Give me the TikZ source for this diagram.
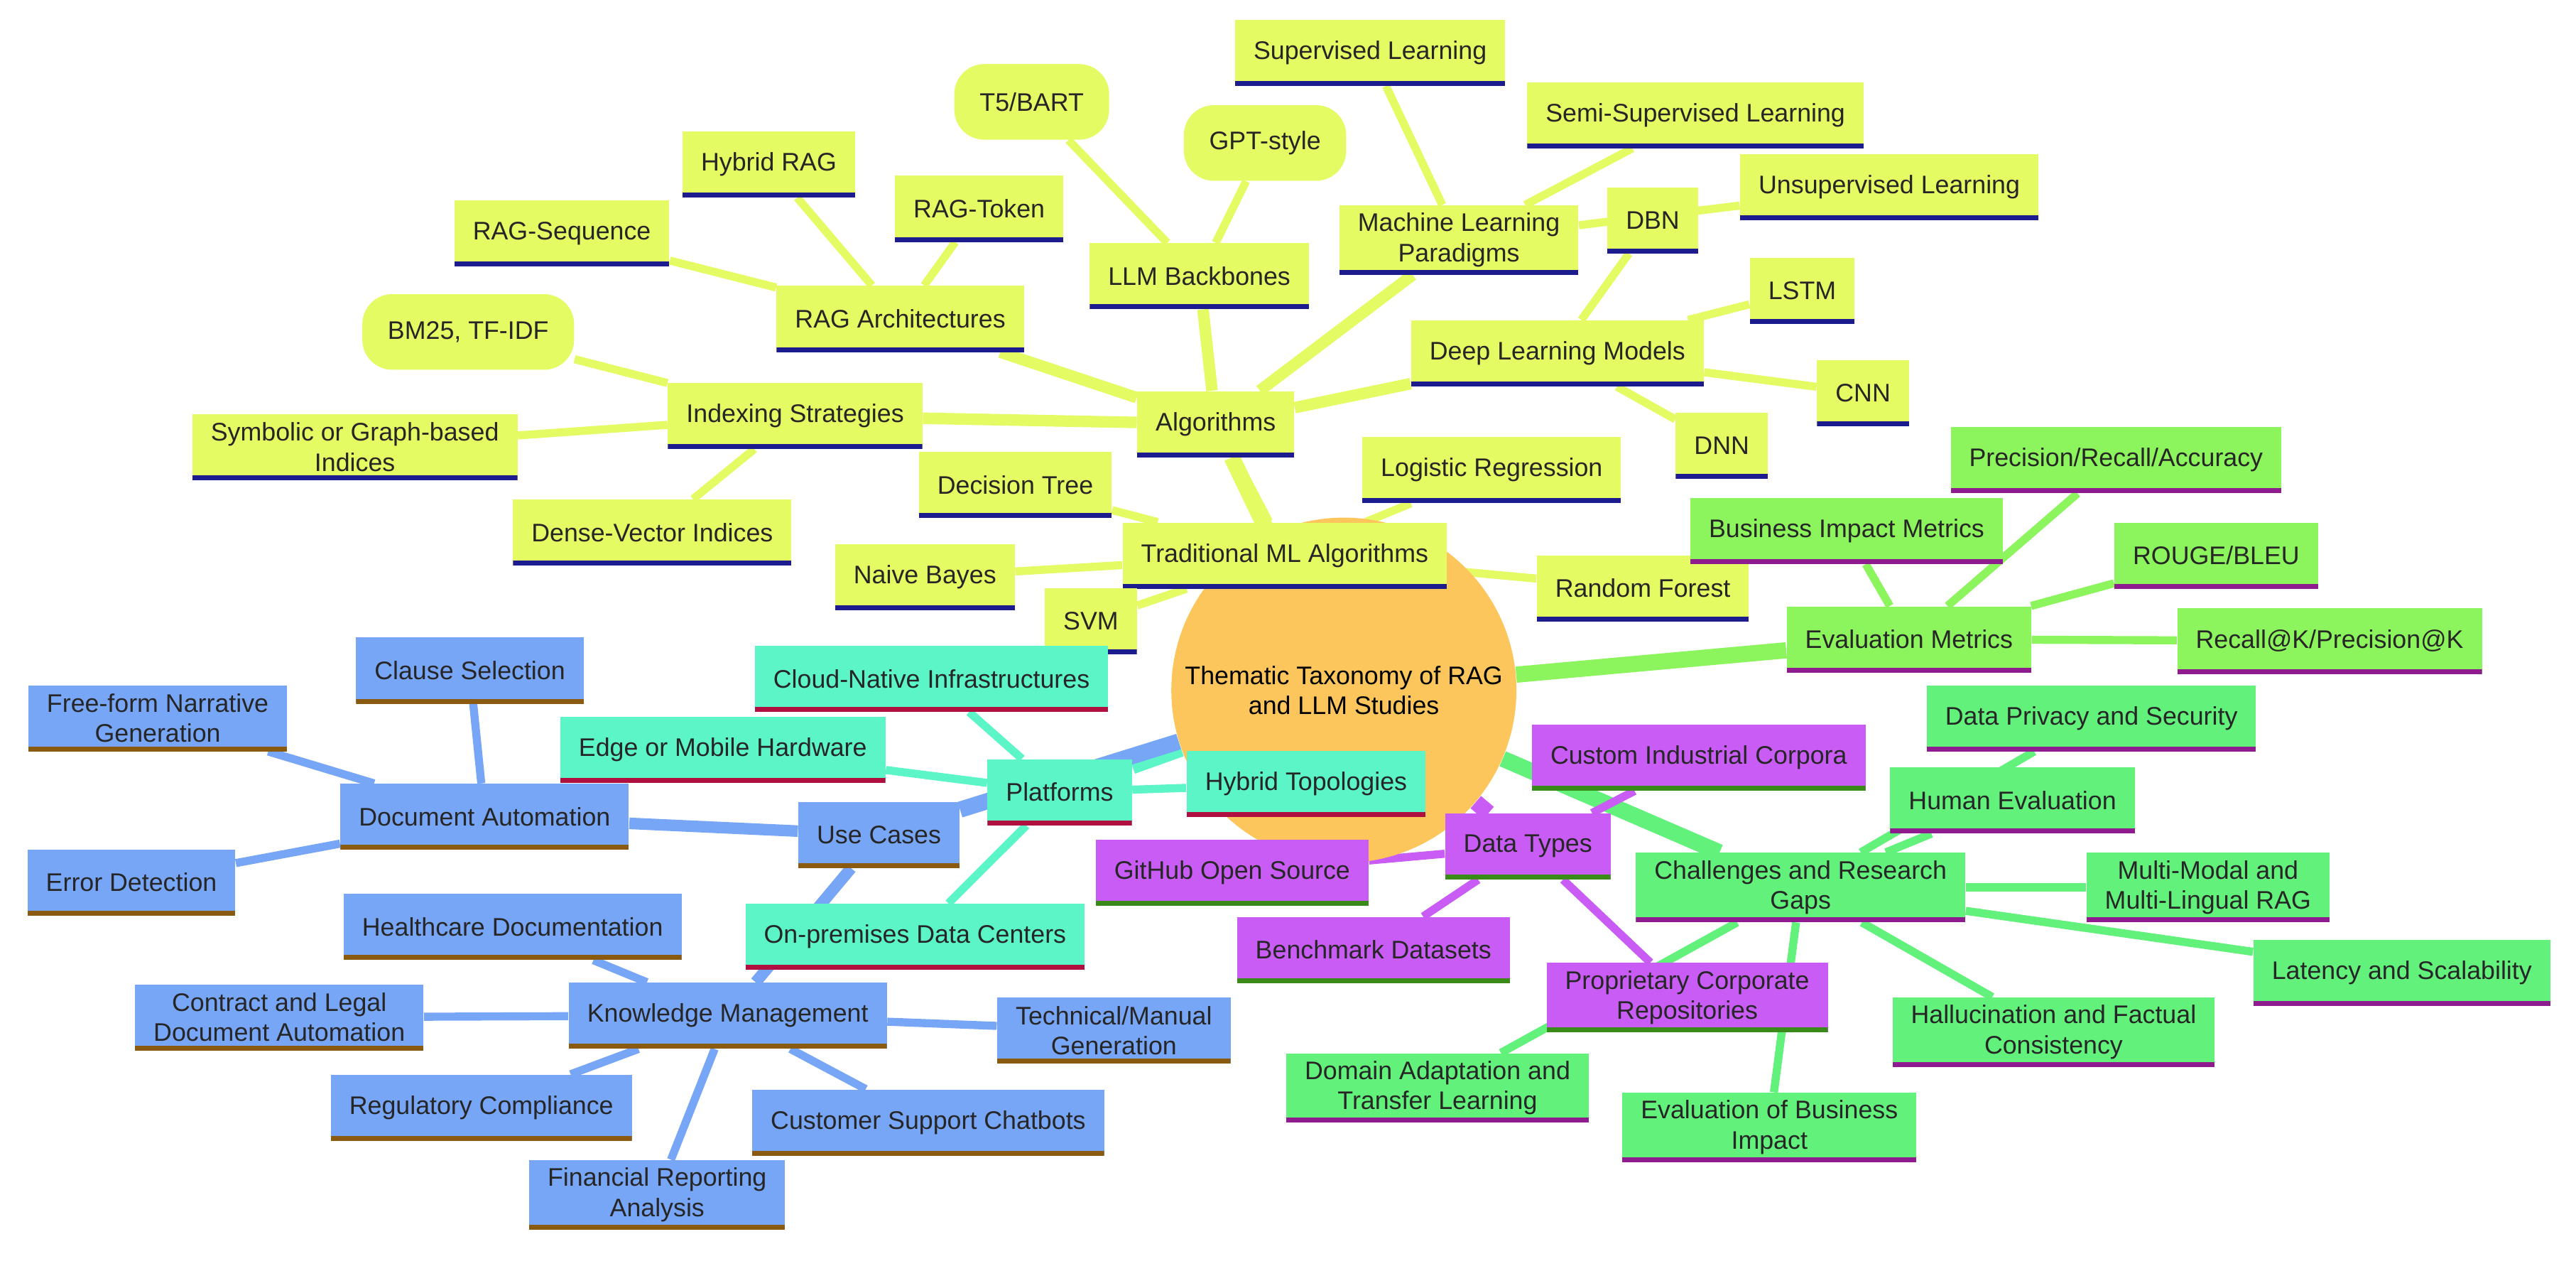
\documentclass[tikz,border=0pt]{standalone}
\usepackage{fontspec}
\setmainfont{Liberation Sans}
\usetikzlibrary{positioning}
\usetikzlibrary{backgrounds}
\definecolor{yel}{HTML}{E4FB63}
\definecolor{navy}{HTML}{1C1C8E}
\definecolor{lime}{HTML}{8CF45C}
\definecolor{grn}{HTML}{62F27C}
\definecolor{plum}{HTML}{8E1C8E}
\definecolor{vio}{HTML}{C95CF5}
\definecolor{moss}{HTML}{3A8A1A}
\definecolor{teal}{HTML}{5CF5C8}
\definecolor{crim}{HTML}{B01040}
\definecolor{blu}{HTML}{78A6F7}
\definecolor{brn}{HTML}{8A5A10}
\definecolor{orng}{HTML}{FDC65C}
\tikzset{
  leaf/.style={draw=none, align=center, inner xsep=8pt, minimum height=1cm,
    font=\fontsize{11}{13}\selectfont, text=black!85},
  ul/.style={path picture={\draw[#1, line width=4pt] (path picture bounding box.south west) -- (path picture bounding box.south east);}},
  Y/.style={leaf, fill=yel, ul=navy},
  YR/.style={leaf, fill=yel, rounded corners=13pt, minimum height=1.15cm, inner xsep=11pt},
  L/.style={leaf, fill=lime, ul=plum},
  G/.style={leaf, fill=grn, ul=plum},
  P/.style={leaf, fill=vio, ul=moss},
  T/.style={leaf, fill=teal, ul=crim},
  B/.style={leaf, fill=blu, ul=brn},
  e0/.style={line width=7pt},
  e1/.style={line width=5pt},
  e2/.style={line width=3.5pt},
}
\begin{document}
\begin{tikzpicture}[x=0.025cm, y=-0.025cm]
\useasboundingbox (0,0) rectangle (1568,770);
% root
\node[circle, fill=orng, minimum size=5.25cm, align=center, font=\fontsize{11}{13}\selectfont] (root) at (818,420) {Thematic Taxonomy of RAG\\and LLM Studies};
% algorithms
\node[Y] (alg) at (740,258) {Algorithms};
\node[Y] (llm) at (730,168) {LLM Backbones};
\node[YR] (t5) at (628,62) {T5/BART};
\node[YR] (gpt) at (770,87) {GPT-style};
\node[Y] (mlp) at (888,146) {Machine Learning\\Paradigms};
\node[Y] (sup) at (834,32) {Supervised Learning};
\node[Y] (semi) at (1032,70) {Semi-Supervised Learning};
\node[Y] (dbn) at (1006,134) {DBN};
\node[Y] (unsup) at (1150,114) {Unsupervised Learning};
\node[Y] (dlm) at (948,215) {Deep Learning Models};
\node[Y] (lstm) at (1097,177) {LSTM};
\node[Y] (cnn) at (1134,239) {CNN};
\node[Y] (dnn) at (1048,271) {DNN};
\node[Y] (raga) at (548,194) {RAG Architectures};
\node[Y] (hyb) at (468,100) {Hybrid RAG};
\node[Y] (tok) at (596,127) {RAG-Token};
\node[Y] (seq) at (342,142) {RAG-Sequence};
\node[Y] (idx) at (484,253) {Indexing Strategies};
\node[YR] (bm) at (285,202) {BM25, TF-IDF};
\node[Y] (sym) at (216,272) {Symbolic or Graph-based\\Indices};
\node[Y] (dense) at (397,324) {Dense-Vector Indices};
\node[Y] (trad) at (782,338) {Traditional ML Algorithms};
\node[Y] (dtree) at (618,295) {Decision Tree};
\node[Y] (nb) at (563,351) {Naive Bayes};
\node[Y] (svm) at (664,378) {SVM};
\node[Y] (logr) at (908,286) {Logistic Regression};
\node[Y] (rf) at (1000,358) {Random Forest};
% evaluation metrics
\node[L] (eval) at (1162,389) {Evaluation Metrics};
\node[L] (prec) at (1288,280) {Precision/Recall/Accuracy};
\node[L] (bim) at (1124,323) {Business Impact Metrics};
\node[L] (rouge) at (1349,338) {ROUGE/BLEU};
\node[L] (rak) at (1418,390) {Recall@K/Precision@K};
% challenges
\node[G] (chal) at (1096,540) {Challenges and Research\\Gaps};
\node[G] (priv) at (1273,437) {Data Privacy and Security};
\node[G] (human) at (1225,487) {Human Evaluation};
\node[G] (multi) at (1344,540) {Multi-Modal and\\Multi-Lingual RAG};
\node[G] (lat) at (1462,592) {Latency and Scalability};
\node[G] (hall) at (1250,628) {Hallucination and Factual\\Consistency};
\node[G] (ebi) at (1077,686) {Evaluation of Business\\Impact};
\node[G] (dom) at (875,662) {Domain Adaptation and\\Transfer Learning};
% data types
\node[P] (dt) at (930,515) {Data Types};
\node[P] (cic) at (1034,461) {Custom Industrial Corpora};
\node[P] (gh) at (750,531) {GitHub Open Source};
\node[P] (bench) at (836,578) {Benchmark Datasets};
\node[P] (prop) at (1027,607) {Proprietary Corporate\\Repositories};
% platforms
\node[T] (plat) at (645,482) {Platforms};
\node[T] (cloud) at (567,413) {Cloud-Native Infrastructures};
\node[T] (edge) at (440,456) {Edge or Mobile Hardware};
\node[T] (htop) at (795,477) {Hybrid Topologies};
\node[T] (onp) at (557,570) {On-premises Data Centers};
% use cases
\node[B] (uc) at (535,508) {Use Cases};
\node[B] (doc) at (295,497) {Document Automation};
\node[B] (clause) at (286,408) {Clause Selection};
\node[B] (free) at (96,437) {Free-form Narrative\\Generation};
\node[B] (err) at (80,537) {Error Detection};
\node[B] (km) at (443,618) {Knowledge Management};
\node[B] (health) at (312,564) {Healthcare Documentation};
\node[B] (contract) at (170,619) {Contract and Legal\\Document Automation};
\node[B] (reg) at (293,674) {Regulatory Compliance};
\node[B] (fin) at (400,727) {Financial Reporting\\Analysis};
\node[B] (cust) at (565,683) {Customer Support Chatbots};
\node[B] (tech) at (678,627) {Technical/Manual\\Generation};
\begin{scope}[on background layer]
\draw[yel, e0] (root) -- (alg);
\draw[yel, e1] (alg) -- (llm);
\draw[yel, e1] (alg) -- (mlp);
\draw[yel, e1] (alg) -- (dlm);
\draw[yel, e1] (alg) -- (raga);
\draw[yel, e1] (alg) -- (idx);
\draw[yel, e1] (alg) -- (trad);
\foreach \a/\b in {llm/t5, llm/gpt, mlp/sup, mlp/semi, mlp/unsup, dlm/dbn, dlm/lstm, dlm/cnn, dlm/dnn,
  raga/hyb, raga/tok, raga/seq, idx/bm, idx/sym, idx/dense, trad/dtree, trad/nb, trad/svm, trad/logr, trad/rf}
  \draw[yel, e2] (\a) -- (\b);
\draw[lime, e0] (root) -- (eval);
\foreach \b in {prec, bim, rouge, rak} \draw[lime, e2] (eval) -- (\b);
\draw[grn, e0] (root) -- (chal);
\foreach \b in {priv, human, multi, lat, hall, ebi, dom} \draw[grn, e2] (chal) -- (\b);
\draw[vio, e0] (root) -- (dt);
\foreach \b in {cic, gh, bench, prop} \draw[vio, e2] (dt) -- (\b);
\draw[teal, e0] (root) -- (plat);
\foreach \b in {cloud, edge, htop, onp} \draw[teal, e2] (plat) -- (\b);
\draw[blu, e0] (root) -- (uc);
\draw[blu, e1] (uc) -- (doc);
\draw[blu, e1] (uc) -- (km);
\foreach \b in {clause, free, err} \draw[blu, e2] (doc) -- (\b);
\foreach \b in {health, contract, reg, fin, cust, tech} \draw[blu, e2] (km) -- (\b);
\end{scope}
\end{tikzpicture}
\end{document}
